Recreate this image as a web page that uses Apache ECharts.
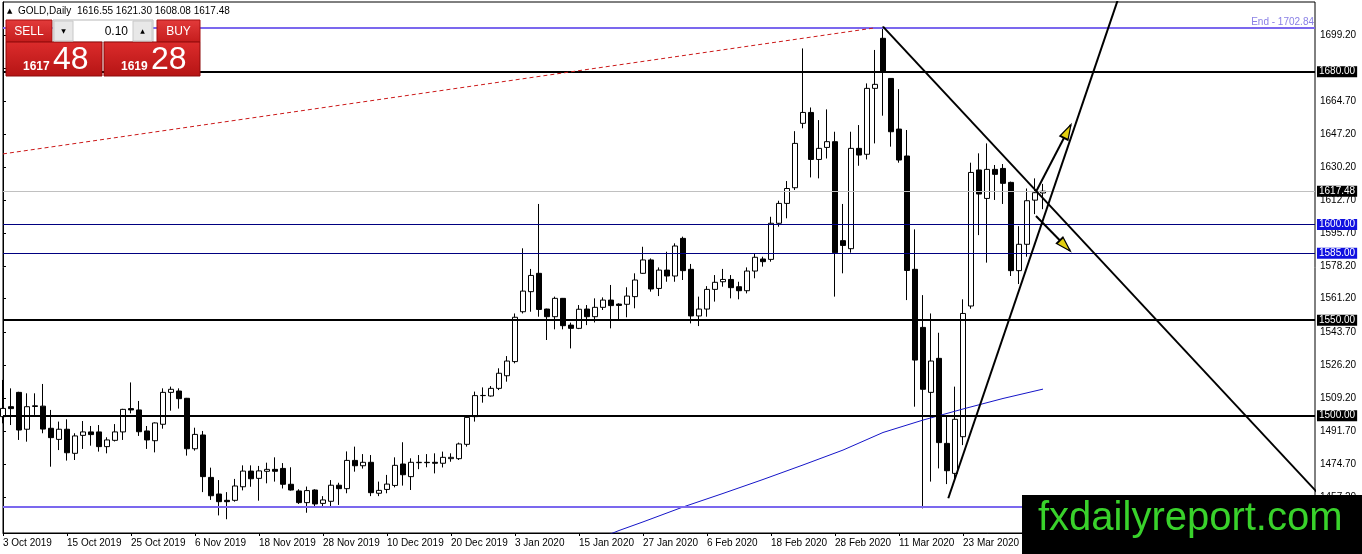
<!DOCTYPE html>
<html><head><meta charset="utf-8">
<script src="https://cdn.jsdelivr.net/npm/echarts@6/dist/echarts.min.js"></script>
<style>html,body{margin:0;padding:0;background:#fff}#c{width:1362px;height:554px}</style>
</head><body><div id="c"></div>
<script>
const categories = [
"3 Oct 2019","4 Oct 2019","7 Oct 2019","8 Oct 2019","9 Oct 2019","10 Oct 2019","11 Oct 2019","14 Oct 2019","15 Oct 2019","16 Oct 2019","17 Oct 2019","18 Oct 2019","21 Oct 2019","22 Oct 2019","23 Oct 2019","24 Oct 2019","25 Oct 2019","28 Oct 2019","29 Oct 2019","30 Oct 2019","31 Oct 2019",
"1 Nov 2019","4 Nov 2019","5 Nov 2019","6 Nov 2019","7 Nov 2019","8 Nov 2019","11 Nov 2019","12 Nov 2019","13 Nov 2019","14 Nov 2019","15 Nov 2019","18 Nov 2019","19 Nov 2019","20 Nov 2019","21 Nov 2019","22 Nov 2019","25 Nov 2019","26 Nov 2019","27 Nov 2019","28 Nov 2019","29 Nov 2019",
"2 Dec 2019","3 Dec 2019","4 Dec 2019","5 Dec 2019","6 Dec 2019","9 Dec 2019","10 Dec 2019","11 Dec 2019","12 Dec 2019","13 Dec 2019","16 Dec 2019","17 Dec 2019","18 Dec 2019","19 Dec 2019","20 Dec 2019","23 Dec 2019","24 Dec 2019","26 Dec 2019","27 Dec 2019","30 Dec 2019","31 Dec 2019",
"2 Jan 2020","3 Jan 2020","6 Jan 2020","7 Jan 2020","8 Jan 2020","9 Jan 2020","10 Jan 2020","13 Jan 2020","14 Jan 2020","15 Jan 2020","16 Jan 2020","17 Jan 2020","20 Jan 2020","21 Jan 2020","22 Jan 2020","23 Jan 2020","24 Jan 2020","27 Jan 2020","28 Jan 2020","29 Jan 2020","30 Jan 2020","31 Jan 2020",
"3 Feb 2020","4 Feb 2020","5 Feb 2020","6 Feb 2020","7 Feb 2020","10 Feb 2020","11 Feb 2020","12 Feb 2020","13 Feb 2020","14 Feb 2020","17 Feb 2020","18 Feb 2020","19 Feb 2020","20 Feb 2020","21 Feb 2020","24 Feb 2020","25 Feb 2020","26 Feb 2020","27 Feb 2020","28 Feb 2020",
"2 Mar 2020","3 Mar 2020","4 Mar 2020","5 Mar 2020","6 Mar 2020","9 Mar 2020","10 Mar 2020","11 Mar 2020","12 Mar 2020","13 Mar 2020","16 Mar 2020","17 Mar 2020","18 Mar 2020","19 Mar 2020","20 Mar 2020","23 Mar 2020","24 Mar 2020","25 Mar 2020","26 Mar 2020","27 Mar 2020","30 Mar 2020","31 Mar 2020",
"1 Apr 2020","2 Apr 2020","3 Apr 2020","6 Apr 2020"];

const open = [1499.5,1504.7,1512.2,1492.9,1504.8,1505.0,1493.4,1487.6,1492.9,1480.3,
1489.7,1491.5,1491.5,1483.8,1487.1,1491.5,1503.7,1503.0,1492.0,1486.9,
1495.5,1512.2,1512.9,1509.1,1482.7,1489.9,1467.7,1459.0,1455.7,1455.7,
1462.8,1471.0,1467.2,1470.9,1471.9,1472.4,1464.1,1460.6,1454.5,1461.1,
1454.1,1455.2,1463.6,1461.8,1476.6,1473.8,1475.6,1459.4,1461.4,1463.5,
1474.7,1468.1,1475.4,1475.6,1475.6,1475.1,1477.5,1477.5,1485.0,1499.5,
1510.5,1510.3,1514.3,1520.9,1528.3,1554.4,1564.9,1574.5,1555.8,1551.8,
1561.4,1547.4,1545.7,1555.8,1551.8,1556.7,1560.5,1558.4,1558.3,1562.3,
1574.5,1581.5,1566.6,1576.2,1573.1,1592.8,1576.6,1552.2,1555.8,1566.1,
1570.1,1571.3,1567.5,1565.4,1575.7,1582.0,1581.8,1600.7,1611.1,1619.3,
1653.0,1658.7,1634.1,1640.4,1643.4,1591.6,1587.4,1639.9,1636.8,1671.3,
1697.5,1676.5,1650.0,1635.9,1576.6,1546.2,1512.2,1530.0,1485.5,1469.8,
1489.0,1557.4,1628.6,1613.7,1628.9,1629.4,1622.1,1575.9,1589.7,1612.8,
1616.55];
const close = [1503.8,1503.7,1492.5,1504.7,1505.2,1493.0,1488.5,1492.9,1480.6,1489.4,
1491.5,1490.1,1483.8,1487.3,1491.5,1503.3,1503.0,1491.6,1487.3,1496.2,
1512.2,1513.8,1508.9,1482.7,1490.2,1468.1,1458.1,1455.0,1455.0,1463.2,
1471.0,1467.0,1471.1,1471.9,1470.9,1464.1,1461.1,1454.5,1460.8,1453.8,
1455.9,1463.6,1461.8,1476.6,1473.8,1475.6,1459.7,1460.9,1464.2,1474.0,
1469.1,1475.6,1475.6,1475.4,1475.1,1478.2,1478.2,1485.2,1499.1,1510.5,
1510.6,1514.3,1522.2,1528.6,1551.5,1565.2,1573.4,1555.6,1551.8,1561.4,
1547.1,1545.7,1555.7,1551.8,1556.7,1560.5,1557.6,1557.7,1562.6,1571.0,
1581.5,1566.3,1576.2,1573.1,1588.8,1575.9,1552.2,1555.8,1566.1,1569.8,
1571.3,1567.0,1565.4,1575.7,1582.9,1580.6,1600.7,1611.1,1618.9,1642.5,
1658.7,1634.1,1639.9,1643.4,1585.3,1589.1,1639.9,1636.4,1671.3,1673.4,
1680.0,1648.6,1633.8,1576.0,1529.1,1513.8,1528.6,1485.9,1471.2,1498.1,
1553.5,1627.3,1616.0,1628.9,1626.3,1621.6,1575.9,1589.7,1612.5,1616.7,
1617.48];
const low = [1496.0,1495.1,1487.3,1486.4,1500.4,1490.8,1473.3,1482.0,1476.5,1476.8,
1482.6,1484.3,1481.2,1480.3,1486.5,1487.3,1501.2,1489.4,1482.6,1480.8,
1493.2,1502.6,1503.7,1479.1,1481.7,1460.0,1455.9,1447.8,1445.8,1455.0,
1460.9,1462.8,1455.5,1464.6,1465.5,1461.9,1460.8,1453.8,1449.2,1452.7,
1452.4,1452.4,1453.3,1459.4,1470.7,1472.3,1457.9,1457.9,1459.4,1462.5,
1463.4,1461.1,1472.0,1473.0,1469.8,1472.9,1475.9,1476.8,1483.8,1496.9,
1506.8,1510.0,1513.4,1517.8,1527.4,1553.5,1554.4,1551.8,1539.6,1545.2,
1545.2,1535.2,1545.3,1547.4,1548.8,1555.3,1545.7,1550.4,1551.5,1556.2,
1574.2,1564.9,1562.6,1570.1,1570.1,1571.0,1548.3,1546.9,1551.8,1559.7,
1567.5,1561.4,1560.9,1564.0,1571.9,1578.0,1580.6,1598.9,1603.3,1618.1,
1650.4,1624.7,1624.2,1634.6,1562.3,1574.5,1585.3,1630.8,1634.1,1642.5,
1657.0,1640.8,1632.4,1560.5,1504.7,1451.5,1465.5,1472.4,1464.2,1466.3,
1484.6,1556.0,1594.5,1580.1,1612.9,1610.8,1573.1,1568.9,1583.2,1605.5,
1608.08];
const high = [1518.7,1514.3,1512.5,1511.7,1511.7,1516.6,1503.0,1496.9,1498.1,1490.8,
1497.2,1494.6,1495.1,1488.7,1495.6,1503.6,1517.4,1507.7,1494.6,1496.5,
1514.3,1515.2,1514.3,1509.3,1493.7,1492.0,1472.8,1466.3,1460.0,1466.9,
1474.0,1474.0,1473.7,1475.4,1478.2,1475.2,1473.0,1461.5,1462.9,1461.5,
1457.9,1466.3,1464.9,1481.3,1483.8,1479.9,1479.4,1465.5,1469.0,1478.2,
1486.1,1477.7,1479.4,1479.9,1480.3,1481.2,1480.3,1485.9,1500.3,1512.6,
1514.8,1515.5,1524.8,1531.2,1553.5,1587.6,1576.8,1610.8,1556.0,1562.3,
1561.6,1548.7,1557.9,1557.9,1561.4,1561.9,1568.4,1558.8,1567.2,1574.5,
1588.4,1582.3,1577.6,1585.8,1590.2,1593.7,1579.4,1562.3,1567.8,1573.6,
1576.8,1573.6,1570.1,1577.6,1584.6,1583.2,1604.1,1612.5,1622.8,1648.9,
1692.2,1661.3,1654.7,1660.3,1648.6,1610.8,1648.6,1652.1,1673.9,1691.4,
1703.6,1676.5,1670.9,1649.5,1597.5,1563.1,1553.5,1543.4,1499.8,1515.2,
1560.9,1632.4,1637.3,1642.5,1631.2,1631.7,1622.5,1599.2,1618.9,1624.2,
1621.3];

// moving average read at selected bars
const maIndex = [75,77,80,85,90,95,100,105,110,115,120,125,130];
const maValue = [1436.5,1439.9,1444.4,1452.2,1459.3,1466.6,1474.2,1482.0,1491.2,1497.7,1503.5,1509.0,1513.9];

const yTickValues = [1457.2,1474.7,1491.7,1509.2,1526.2,1543.7,1561.2,1578.2,1595.7,1612.7,1630.2,1647.2,1664.7,1681.7,1699.2];
const yTickLabels = [1457.2,1474.7,1491.7,1509.2,1526.2,1543.7,1561.2,1578.2,1595.7,1612.7,1630.2,1647.2,1664.7,1699.2];
const blackLevels = [1680, 1550, 1500];
const blueLevels = [1600, 1585];
const bidPrice = 1617.48;
const fiboTop = 1702.84;
const fiboBottom = 1452.4;
const futureBars = 34;

// drawn objects (bar index, price)
const redDotted = [[0, 1637.0], [108.79, 1702.84]];
const downTrend = [[110, 1703.6], [166, 1452.1]];
const upTrend = [[118.16, 1456.8], [141, 1737.9]];
const arrowUp = [[129.125, 1617.2], [133.46, 1652.1]];
const arrowDown = [[129.125, 1604.5], [133.375, 1586.3]];

const header = ['GOLD,Daily', '1616.55', '1621.30', '1608.08', '1617.48'];

const FONT = 'Liberation Sans, Arial, sans-serif';
const xData = categories.concat(Array.from({length: futureBars}, (_, k) => '+' + (k + 1)));
const candles = open.map((o, i) => [o, close[i], low[i], high[i]]);
const lastIdx = xData.length - 1;

function boxLabel(bg) {
  return {show: true, position: 'end', distance: 2, formatter: p => Number(p.value).toFixed(2),
    backgroundColor: bg, color: '#fff', padding: [1, 2, 0, 2], fontSize: 10, fontFamily: FONT};
}
const markData = [];
blackLevels.forEach(v => markData.push({yAxis: v, lineStyle: {color: '#000', width: 2, type: 'solid'}, label: boxLabel('#000')}));
markData.push({yAxis: bidPrice, lineStyle: {color: '#c0c0c0', width: 1, type: 'solid'}, label: boxLabel('#000')});
blueLevels.forEach(v => markData.push({yAxis: v, lineStyle: {color: '#000080', width: 1, type: 'solid'}, label: boxLabel('#1010e0')}));
markData.push({yAxis: fiboTop, lineStyle: {color: '#7b68ee', width: 2, type: 'solid'},
  label: {show: true, position: 'insideEndTop', distance: [1, 1], formatter: 'End - ' + fiboTop.toFixed(2), color: '#8a80e6', fontSize: 10, fontFamily: FONT}});
markData.push({yAxis: fiboBottom, lineStyle: {color: '#7b68ee', width: 2, type: 'solid'}, label: {show: false}});

function seg(data, style, z) {
  return {type: 'line', xAxisIndex: 1, yAxisIndex: 0, data: data, symbol: 'none', clip: true, silent: true,
    lineStyle: style, z: z || 6, animation: false};
}
const red = (a, b) => new echarts.graphic.LinearGradient(0, 0, 0, 1, [{offset: 0, color: a}, {offset: 1, color: b}]);

const chart = echarts.init(document.getElementById('c'), null, {renderer: 'canvas'});
chart.setOption({
  animation: false,
  backgroundColor: '#fff',
  grid: {left: 3, right: 47, top: 2, bottom: 21, show: true, borderColor: '#000', borderWidth: 1, containLabel: false},
  xAxis: [{
    type: 'category', data: xData, boundaryGap: false,
    axisLine: {show: true, lineStyle: {color: '#000', width: 1}},
    axisTick: {show: true, interval: 7, length: 3, lineStyle: {color: '#000'}},
    axisLabel: {interval: 7, align: 'left', margin: 5, fontSize: 10, fontFamily: FONT, color: '#000',
      formatter: v => v.charAt(0) === '+' ? '' : v},
    splitLine: {show: false}
  }, {
    type: 'value', min: 0, max: lastIdx, show: false
  }],
  yAxis: [{
    type: 'value', position: 'right', min: 1438.6, max: 1716.5, scale: true,
    axisLine: {show: true, lineStyle: {color: '#000', width: 1}},
    axisTick: {show: true, length: 3, customValues: yTickValues, lineStyle: {color: '#000'}},
    axisLabel: {customValues: yTickLabels, margin: 5, fontSize: 10, fontFamily: FONT, color: '#000',
      formatter: v => Number(v).toFixed(2)},
    splitLine: {show: false}
  }],
  series: [
    {
      type: 'candlestick', xAxisIndex: 0, yAxisIndex: 0, data: candles, barWidth: 5, z: 2, clip: true,
      itemStyle: {color: '#fff', color0: '#000', borderColor: '#000', borderColor0: '#000', borderColorDoji: '#000', borderWidth: 1}
    },
    {
      type: 'line', xAxisIndex: 0, yAxisIndex: 0, data: [], clip: false, silent: true, z: 5,
      markLine: {silent: true, symbol: ['none', 'none'], animation: false, data: markData}
    },
    {
      type: 'line', xAxisIndex: 1, yAxisIndex: 0, data: maIndex.map((k, j) => [k, maValue[j]]),
      symbol: 'none', clip: true, silent: true, z: 4, lineStyle: {color: '#1515c8', width: 1}
    },
    seg(redDotted, {color: '#cc1a1a', width: 1, type: [4, 3]}),
    seg(downTrend, {color: '#000', width: 2}),
    seg(upTrend, {color: '#000', width: 2}),
    seg(arrowUp, {color: '#000', width: 2}),
    seg(arrowDown, {color: '#000', width: 2}),
    {
      type: 'scatter', xAxisIndex: 1, yAxisIndex: 0, silent: true, z: 7,
      data: [
        {value: arrowUp[1], symbolRotate: -27.5, symbolOffset: [-3.2, 6.2]},
        {value: arrowDown[1], symbolRotate: -135.6, symbolOffset: [-4.9, -5.0]}
      ],
      symbol: 'triangle', symbolSize: [9, 15],
      itemStyle: {color: '#e3cf10', borderColor: '#000', borderWidth: 1.5, opacity: 1}
    }
  ],
  graphic: [
    {type: 'text', x: 7, y: 11, z: 100, style: {text: '▲', fontSize: 7, fontFamily: 'DejaVu Sans', fill: '#000', align: 'left', verticalAlign: 'middle', textAlign: 'left', textVerticalAlign: 'middle'}},
    {type: 'text', x: 18, y: 11, z: 100, style: {text: header[0] + '  ' + header.slice(1).join(' '), fontSize: 10, fontFamily: FONT, fill: '#000', align: 'left', verticalAlign: 'middle', textAlign: 'left', textVerticalAlign: 'middle'}},
    // SELL
    {type: 'rect', z: 100, shape: {x: 6, y: 20, width: 46, height: 22}, style: {fill: red('#e33b3b', '#c41c1c'), stroke: '#a81010', lineWidth: 1}},
    {type: 'text', x: 29, y: 31.5, z: 101, style: {text: 'SELL', fontSize: 12, fontFamily: FONT, fill: '#fff', align: 'center', verticalAlign: 'middle', textAlign: 'center', textVerticalAlign: 'middle'}},
    // lot spinner
    {type: 'rect', z: 100, shape: {x: 53, y: 20, width: 100, height: 22}, style: {fill: '#fff', stroke: '#b8b8b8', lineWidth: 1}},
    {type: 'rect', z: 101, shape: {x: 54, y: 21, width: 19, height: 20}, style: {fill: '#e8e8e8', stroke: '#c8c8c8', lineWidth: 1}},
    {type: 'rect', z: 101, shape: {x: 133, y: 21, width: 19, height: 20}, style: {fill: '#e8e8e8', stroke: '#c8c8c8', lineWidth: 1}},
    {type: 'text', x: 63.5, y: 31, z: 102, style: {text: '▼', fontSize: 6, fontFamily: 'DejaVu Sans', fill: '#000', align: 'center', verticalAlign: 'middle', textAlign: 'center', textVerticalAlign: 'middle'}},
    {type: 'text', x: 142.5, y: 31, z: 102, style: {text: '▲', fontSize: 6, fontFamily: 'DejaVu Sans', fill: '#000', align: 'center', verticalAlign: 'middle', textAlign: 'center', textVerticalAlign: 'middle'}},
    {type: 'text', x: 128, y: 31.5, z: 102, style: {text: '0.10', fontSize: 12, fontFamily: FONT, fill: '#000', align: 'right', verticalAlign: 'middle', textAlign: 'right', textVerticalAlign: 'middle'}},
    // BUY
    {type: 'rect', z: 100, shape: {x: 157, y: 20, width: 43, height: 22}, style: {fill: red('#e33b3b', '#c41c1c'), stroke: '#a81010', lineWidth: 1}},
    {type: 'text', x: 178.5, y: 31.5, z: 101, style: {text: 'BUY', fontSize: 12, fontFamily: FONT, fill: '#fff', align: 'center', verticalAlign: 'middle', textAlign: 'center', textVerticalAlign: 'middle'}},
    // price boxes
    {type: 'rect', z: 100, shape: {x: 6, y: 42, width: 96, height: 34}, style: {fill: red('#dc2c2c', '#b51414'), stroke: '#8e0b0b', lineWidth: 1}},
    {type: 'rect', z: 100, shape: {x: 104, y: 42, width: 96, height: 34}, style: {fill: red('#dc2c2c', '#b51414'), stroke: '#8e0b0b', lineWidth: 1}},
    {type: 'text', x: 23, y: 66.5, z: 101, style: {text: '1617', fontSize: 12, fontWeight: 'bold', fontFamily: FONT, fill: '#fff', align: 'left', verticalAlign: 'middle', textAlign: 'left', textVerticalAlign: 'middle'}},
    {type: 'text', x: 53, y: 60, z: 101, style: {text: '48', fontSize: 32, fontFamily: FONT, fill: '#fff', align: 'left', verticalAlign: 'middle', textAlign: 'left', textVerticalAlign: 'middle'}},
    {type: 'text', x: 121, y: 66.5, z: 101, style: {text: '1619', fontSize: 12, fontWeight: 'bold', fontFamily: FONT, fill: '#fff', align: 'left', verticalAlign: 'middle', textAlign: 'left', textVerticalAlign: 'middle'}},
    {type: 'text', x: 151, y: 60, z: 101, style: {text: '28', fontSize: 32, fontFamily: FONT, fill: '#fff', align: 'left', verticalAlign: 'middle', textAlign: 'left', textVerticalAlign: 'middle'}},
    // watermark
    {type: 'rect', z: 100, shape: {x: 1022, y: 495, width: 340, height: 59}, style: {fill: '#000'}},
    {type: 'text', x: 1038, y: 519, z: 101, style: {text: 'fxdailyreport.com', fontSize: 40, fontFamily: FONT, fill: '#39d22b', align: 'left', verticalAlign: 'middle', textAlign: 'left', textVerticalAlign: 'middle'}}
  ]
});
</script></body></html>
